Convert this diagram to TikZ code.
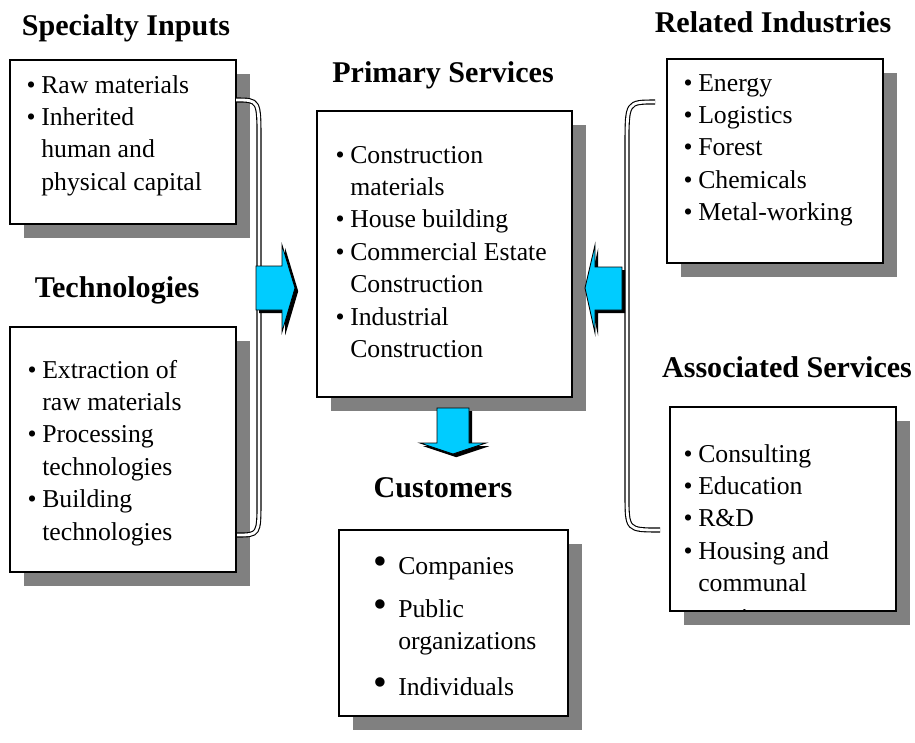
\documentclass[tikz,border=0pt]{standalone}
\usepackage{fontspec}
\setmainfont{Liberation Serif}
\usetikzlibrary{shadows}

\definecolor{arrowblue}{RGB}{0,204,255}
\definecolor{shadowgray}{RGB}{128,128,128}

\newcommand{\itm}{\llap{\textbullet\hspace{4pt}}}
\newcommand{\bigitm}{\llap{{\fontsize{28}{28}\selectfont\textbullet}\hspace{8pt}}}

\begin{document}
\begin{tikzpicture}[
    every node/.style={font=\fontsize{18.3}{23.1}\selectfont},
    box/.style={
        draw,
        line width=1.1pt,
        fill=white,
        drop shadow={shadow xshift=0.34cm, shadow yshift=-0.34cm,
                     fill=shadowgray, opacity=1}
    },
    title/.style={font=\fontsize{21.4}{25}\selectfont\bfseries, anchor=base},
    list/.style={anchor=base west, inner sep=0pt},
    bracket/.style={double, line width=0.8pt, double distance=2pt},
    blockarrow/.style={
        fill=arrowblue,
        draw=black,
        line width=0.6pt,
        drop shadow={shadow xshift=0.08cm, shadow yshift=-0.08cm,
                     fill=black, opacity=1}
    }
]
\useasboundingbox (0,0) rectangle (22.875,-18.55);

% Titles
\node[title] (spectitle) at (3.15,-0.875) {Specialty Inputs};
\node[title] (techtitle) at (2.925,-7.425) {Technologies};
\node[title] (primtitle) at (11.075,-2.05) {Primary Services};
\node[title] (custtitle) at (11.075,-12.425) {Customers};
\node[title] (reltitle) at (19.325,-0.8) {Related Industries};
\node[title] (assoctitle) at (19.675,-9.425) {Associated Services};

% Boxes
\node[box, minimum width=5.65cm, minimum height=4.1cm] (specbox) at (3.075,-3.55) {};
\node[box, minimum width=5.65cm, minimum height=6.12cm] (techbox) at (3.075,-11.24) {};
\node[box, minimum width=6.375cm, minimum height=7.15cm] (primbox) at (11.1125,-6.35) {};
\node[box, minimum width=5.725cm, minimum height=4.65cm] (custbox) at (11.34,-15.58) {};
\node[box, minimum width=5.4cm, minimum height=5.1cm] (relbox) at (19.375,-4.025) {};
\node[box, minimum width=5.65cm, minimum height=5.1cm] (assocbox) at (19.575,-12.725) {};

% Lists
\node[list] (spectext) at (1.025,-2.325) {\begin{tabular}[t]{@{}l@{}}
    \itm Raw materials\\ \itm Inherited\\ human and\\ physical capital
\end{tabular}};
\node[list] (techtext) at (1.05,-9.45) {\begin{tabular}[t]{@{}l@{}}
    \itm Extraction of\\ raw materials\\ \itm Processing\\ technologies\\
    \itm Building\\ technologies
\end{tabular}};
\node[list] (primtext) at (8.75,-4.075) {\begin{tabular}[t]{@{}l@{}}
    \itm Construction\\ materials\\ \itm House building\\
    \itm Commercial Estate\\ Construction\\ \itm Industrial\\ Construction
\end{tabular}};
\node[list] (custtext) at (9.95,-14.35) {\begin{tabular}[t]{@{}l@{}}
    \bigitm Companies\\[7.5pt] \bigitm Public\\ organizations\\[9.5pt]
    \bigitm Individuals
\end{tabular}};
\node[list] (reltext) at (17.45,-2.275) {\begin{tabular}[t]{@{}l@{}}
    \itm Energy\\ \itm Logistics\\ \itm Forest\\ \itm Chemicals\\
    \itm Metal-working
\end{tabular}};
% last line runs past the box and is cut off
\begin{scope}
\clip ([yshift=1pt]assocbox.south west) rectangle (assocbox.north east);
\node[list] (assoctext) at (17.45,-11.55) {\begin{tabular}[t]{@{}l@{}}
    \itm Consulting\\ \itm Education\\ \itm R\&D\\ \itm Housing and\\
    communal\\[1.6pt] services
\end{tabular}};
\end{scope}

% Brackets
\draw[bracket] (5.9,-2.5) .. controls (6.475,-2.5) .. (6.475,-3.5)
    -- (6.475,-12.5) .. controls (6.475,-13.375) .. (5.925,-13.375);
\draw[bracket] (16.375,-2.55) .. controls (15.675,-2.55) .. (15.675,-3.625)
    -- (15.675,-12.375) .. controls (15.675,-13.25) .. (16.5,-13.25);

% Block arrows
\filldraw[blockarrow] (6.4,-6.65) -- (7.05,-6.65) -- (7.05,-6.125) -- (7.375,-7.2)
    -- (7.05,-8.3) -- (7.05,-7.75) -- (6.4,-7.75) -- cycle;
\filldraw[blockarrow] (15.55,-6.675) -- (14.875,-6.675) -- (14.875,-6.125) -- (14.625,-7.2)
    -- (14.875,-8.325) -- (14.875,-7.75) -- (15.55,-7.75) -- cycle;
\filldraw[blockarrow] (10.925,-10.2) -- (11.725,-10.2) -- (11.725,-11.075) -- (12.15,-11.075)
    -- (11.325,-11.35) -- (10.5,-11.075) -- (10.925,-11.075) -- cycle;

\end{tikzpicture}
\end{document}
